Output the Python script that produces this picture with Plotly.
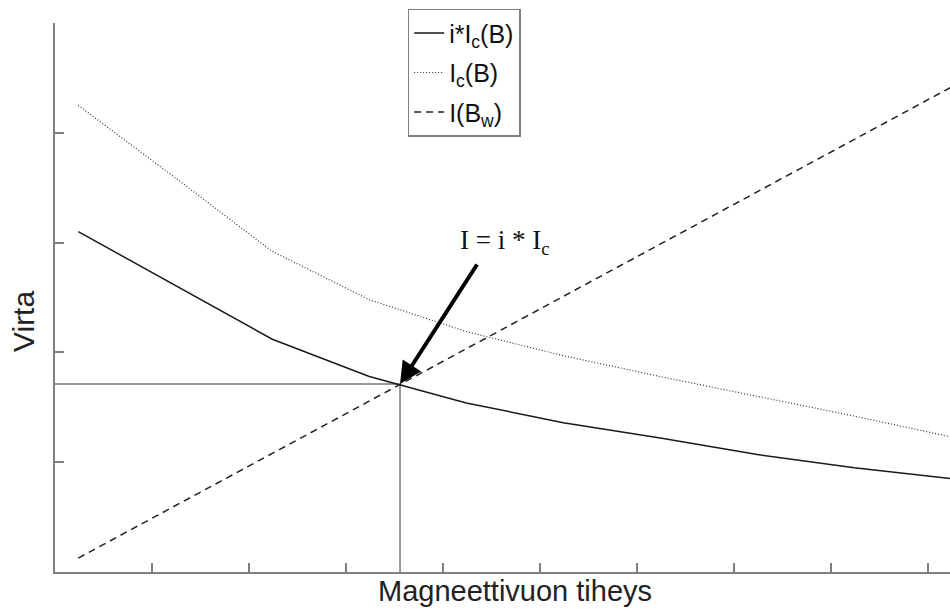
import plotly.graph_objects as go

# Magnetic flux density samples (arbitrary units)
b_values = [0.24, 1.24, 2.24, 3.24, 4.24, 5.24, 6.24, 7.24, 8.24, 9.24]
# Critical current Ic(B)
ic_values = [4.25, 3.59, 2.92, 2.48, 2.19, 1.97, 1.78, 1.60, 1.42, 1.23]
# Operating current i*Ic(B)
i_ic_values = [3.10, 2.61, 2.12, 1.78, 1.54, 1.36, 1.22, 1.07, 0.95, 0.85]
# Winding field load line I(Bw)
bw_x = [0.24, 9.24]
bw_values = [0.127, 4.416]

# Operating point where the load line meets i*Ic(B)
op_b = 3.557
op_i = 1.712

x_ticks = list(range(0, 10))
y_ticks = list(range(0, 6))

fig = go.Figure()

fig.add_trace(go.Scatter(
    x=[0, op_b, op_b], y=[op_i, op_i, 0], mode="lines",
    line=dict(color="#7a7a7a", width=1.5), showlegend=False, hoverinfo="skip"))

fig.add_trace(go.Scatter(
    x=b_values, y=i_ic_values, mode="lines", name="i*I<sub>c</sub>(B)",
    legendgroup="a", line=dict(color="#1a1a1a", width=1.5)))
fig.add_trace(go.Scatter(
    x=b_values, y=ic_values, mode="lines", name="I<sub>c</sub>(B)",
    legendgroup="b", line=dict(color="#333333", width=1.2, dash="1px,2px")))
fig.add_trace(go.Scatter(
    x=bw_x, y=bw_values, mode="lines", name="I(B<sub>w</sub>)",
    legendgroup="c", line=dict(color="#222222", width=1.5, dash="7px,5px")))

fig.add_annotation(
    x=op_b, y=op_i, ax=4.361, ay=2.814, xref="x", yref="y", axref="x", ayref="y",
    text="", showarrow=True, arrowhead=2, arrowsize=1.1, arrowwidth=4,
    arrowcolor="#000000")
fig.add_annotation(
    x=4.64, y=3.005, xref="x", yref="y", showarrow=False,
    text="I = i * I<sub>c</sub>",
    font=dict(family="Liberation Serif", size=27, color="#111111"))

# Axis titles, positioned in page pixels (converted below)
fig.add_annotation(
    x=515, y=591, xref="paper", yref="paper", showarrow=False,
    xanchor="center", yanchor="middle",
    text="Magneettivuon tiheys",
    font=dict(family="Liberation Sans", size=29, color="#222222"))
fig.add_annotation(
    x=23, y=322, xref="paper", yref="paper", showarrow=False, textangle=-90,
    xanchor="center", yanchor="middle",
    text="Virta",
    font=dict(family="Liberation Sans", size=30, color="#222222"))

axis_style = dict(
    showgrid=False, zeroline=False, showline=True, linecolor="#808080",
    linewidth=2, ticks="inside", ticklen=9, tickcolor="#808080", tickwidth=1.5,
    showticklabels=False)

fig.update_layout(
    width=950, height=609,
    margin=dict(l=55, r=0, t=23, b=37),
    paper_bgcolor="white", plot_bgcolor="white",
    xaxis=dict(range=[0, 9.227], tickvals=x_ticks, **axis_style),
    yaxis=dict(range=[0, 5], tickvals=y_ticks, **axis_style),
    legend=dict(
        x=0.394, y=1.026, xanchor="left", yanchor="top",
        bgcolor="white", bordercolor="#808080", borderwidth=1.5,
        font=dict(family="Liberation Sans", size=25, color="#111111"),
        tracegroupgap=4, itemwidth=30),
    showlegend=True,
)

for ann in fig.layout.annotations:
    if ann.xref == "paper":
        ann.x = (ann.x - 55) / 895
        ann.y = (572 - ann.y) / 549

fig.write_html("out.html")
